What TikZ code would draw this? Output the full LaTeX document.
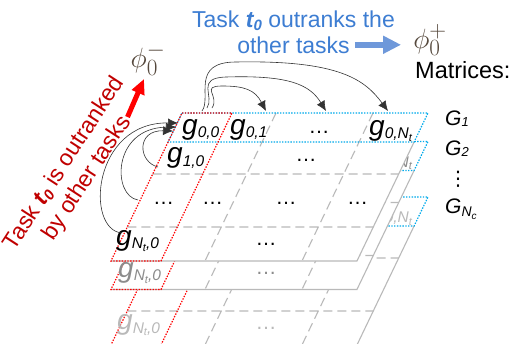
\documentclass[tikz,border=0pt]{standalone}
\usepackage{graphicx}
\usepackage[no-math]{fontspec}
\setmainfont{Liberation Sans}
\newfontfamily\djv{DejaVu Sans}
\usetikzlibrary{arrows.meta}
\definecolor{gridgray}{RGB}{185,185,185}
\definecolor{dotblue}{RGB}{0,170,235}
\definecolor{dotred}{RGB}{255,0,0}
\definecolor{txtblue}{RGB}{61,125,210}
\definecolor{arrblue}{RGB}{110,152,218}
\definecolor{txtred}{RGB}{192,0,0}
\definecolor{phicol}{RGB}{85,72,60}
\definecolor{gtwotxt}{RGB}{140,140,140}
\definecolor{gthreetxt}{RGB}{185,185,185}

\newcommand\gsub[1]{\raisebox{-3.5pt}{\fontsize{15.5}{15.5}\selectfont #1}}
\newcommand\Nsub{N\raisebox{-2.5pt}{\fontsize{11}{11}\selectfont t}}
\newcommand\tzero{{\bfseries\itshape t\raisebox{-3.5pt}{\fontsize{15}{15}\selectfont 0}}}
\newcommand\drawmatgrid[1]{%
  \begin{scope}[shift={(0,#1)}, xslant=0.48]
    \fill[white] (182,0) -- (428,0) -- (428,148) -- (182,148) -- cycle;
    \path[gridline] (182,61) -- (428,61) (182,114) -- (428,114)
                    (276,0) -- (276,148) (373,0) -- (373,148);
    \path[gridsolid] (182,148) -- (428,148) -- (428,29);
    \path[bluedot] (182,0) -- (428,0) -- (428,29) -- (182,29) -- cycle;
    \path[reddot] (182,0) -- (232,0) -- (232,148) -- (182,148) -- cycle;
  \end{scope}}

\tikzset{
  cell/.style={anchor=base west, inner sep=0pt, font=\fontsize{28}{28}\selectfont\itshape},
  dotsnode/.style={anchor=base, inner sep=0pt, font=\fontsize{21}{21}\selectfont},
  gridline/.style={draw=gridgray, line width=1.1pt, dash pattern=on 9pt off 5pt},
  gridsolid/.style={draw=gridgray, line width=1.1pt},
  bluedot/.style={draw=dotblue, line width=1.2pt, dash pattern=on 1.4pt off 1.4pt},
  reddot/.style={draw=dotred, line width=1.2pt, dash pattern=on 1.4pt off 1.4pt},
  link/.style={draw=black!80, line width=0.6pt, -{Latex[length=10pt,width=9pt]}},
  bluetxt/.style={anchor=base, inner sep=0pt, font=\fontsize{23}{23}\selectfont, text=txtblue},
  redtxt/.style={inner sep=0pt, align=center, font=\fontsize{23}{27}\selectfont, text=txtred, rotate=57},
  phinode/.style={inner sep=0pt, text=phicol, font=\fontsize{24.88}{24.88}\selectfont},
  lbl/.style={anchor=base west, inner sep=0pt, font=\fontsize{21}{21}\selectfont},
}

\begin{document}
\begin{tikzpicture}[x=1pt,y=-1pt]
\useasboundingbox (0,0) rectangle (511,343);

% ---- matrix G_Nc (back)
\drawmatgrid{197}
\node[cell, text=gthreetxt] (gc0N) at (369,219) {g\gsub{0,\Nsub}};
\node[cell, text=gthreetxt] (gcN0) at (117,329.5) {g\gsub{\Nsub,0}};
\node[dotsnode, text=gthreetxt] (dc) at (266,329.5) {…};

% ---- matrix G_2
\drawmatgrid{141.5}
\node[cell, text=gtwotxt] (gb0N) at (369,163.5) {g\gsub{0,\Nsub}};
\node[cell, text=gtwotxt] (gbN0) at (118,277) {g\gsub{\Nsub,0}};
\node[dotsnode, text=gtwotxt] (db) at (266,274.5) {…};

% ---- matrix G_1 (front)
\drawmatgrid{113}
\node[cell] (g00) at (182,134) {g\gsub{0,0}};
\node[cell] (g01) at (230,134) {g\gsub{0,1}};
\node[dotsnode] (d0) at (319,133) {…};
\node[cell] (g0N) at (369,135) {g\gsub{0,\Nsub}};
\node[cell] (g10) at (167,162.5) {g\gsub{1,0}};
\node[dotsnode] (d1) at (306,161) {…};
\node[dotsnode] (d2a) at (163.5,204) {…};
\node[dotsnode] (d2b) at (212.5,204) {…};
\node[dotsnode] (d2c) at (286,204) {…};
\node[dotsnode] (d2d) at (357.5,204) {…};
\node[cell] (gN0) at (116,245) {g\gsub{\Nsub,0}};
\node[dotsnode] (d3) at (266,245) {…};

% ---- curved links along row 0
\coordinate (t1s) at (212,108); \coordinate (t1e) at (266,111);
\coordinate (t2s) at (207,108); \coordinate (t2e) at (326,111);
\coordinate (t3s) at (202,111); \coordinate (t3e) at (388,111);
\draw[link] (t1s) .. controls (220,96) and (200,86) .. (222,86) .. controls (245,86) and (255,90) .. (t1e);
\draw[link] (t2s) .. controls (215,96) and (195,78) .. (226,77) .. controls (290,75) and (310,85) .. (t2e);
\draw[link] (t3s) .. controls (212,98) and (190,62) .. (236,62) .. controls (340,60) and (365,80) .. (t3e);

% ---- curved links along column 0
\coordinate (l1s) at (158,167); \coordinate (l1e) at (173,131);
\coordinate (l2s) at (138,200); \coordinate (l2e) at (176,127);
\coordinate (l3s) at (122,233); \coordinate (l3e) at (178,123);
\draw[link] (l1s) .. controls (138,162) and (136,130) .. (l1e);
\draw[link] (l2s) .. controls (112,196) and (112,128) .. (l2e);
\draw[link] (l3s) .. controls (85,230) and (92,122) .. (l3e);

% ---- phi labels
\node[phinode] (phiminus) at (148,59) {\scalebox{1.12}{$\phi_0^-$}};
\node[phinode] (phiplus) at (430,40) {\scalebox{1.12}{$\phi_0^+$}};

% ---- blue caption and arrow
\node[bluetxt] (bl1) at (293.5,27) {Task \tzero{} outranks the};
\node[bluetxt] (bl2) at (293.5,53) {other tasks};
\draw[-{Triangle[length=18pt,width=17pt]}, line width=6.5pt, arrblue]
  ([xshift=5pt]bl2.east) -- ([xshift=-12pt]bl2.east -| phiplus.west);

% ---- red caption and arrow
\node[redtxt] (rl) at (76,171) {Task \tzero{} is outranked\\by other tasks};
\coordinate (rtail) at (127.5,117);
\coordinate (rtip) at (144,79);
\draw[-{Triangle[length=15pt,width=13pt]}, line width=5pt, red] (rtail) -- (rtip);

% ---- matrices legend
\node[lbl, font=\fontsize{23.5}{23.5}\selectfont] (mat) at (415,78) {Matrices:};
\node[lbl] (G1) at (445,125) {\itshape G\raisebox{-1.5pt}{\fontsize{13}{13}\selectfont 1}};
\node[lbl] (G2) at (445,155) {\itshape G\raisebox{-1.5pt}{\fontsize{13}{13}\selectfont 2}};
\node[anchor=north, inner sep=0pt, font=\djv\fontsize{20}{20}\selectfont] (vd) at (458,171) {⋮};
\node[lbl] (GNc) at (445,213) {\itshape G\raisebox{-3.5pt}{\fontsize{14}{14}\selectfont N\raisebox{-2.5pt}{\fontsize{10}{10}\selectfont c}}};
\end{tikzpicture}
\end{document}
